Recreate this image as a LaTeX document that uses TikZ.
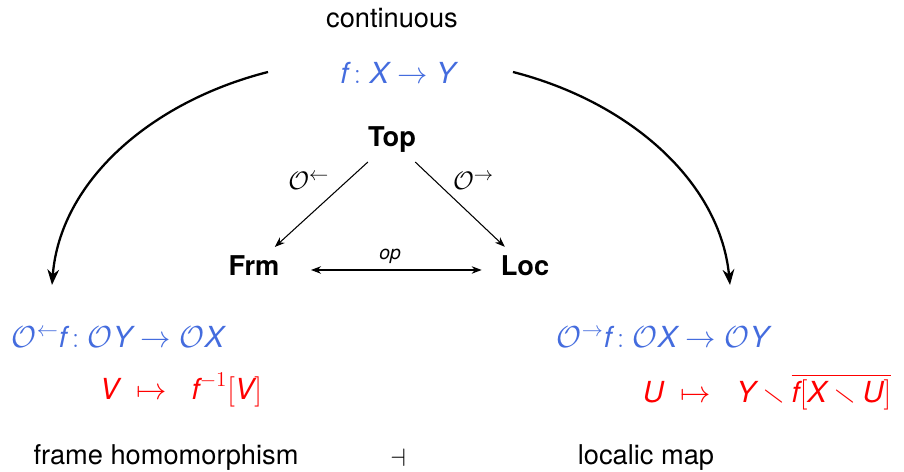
\documentclass[tikz,border=0pt]{standalone}
\usepackage{amsmath,amssymb}
\usepackage{fontspec}
\setmainfont{TeX Gyre Heros}
\usetikzlibrary{arrows.meta,calc,positioning}
\definecolor{SlideBlue}{RGB}{68,108,222}
\definecolor{SlideRed}{RGB}{255,0,0}
\newcommand{\mi}[1]{\textit{#1}}
\newcommand{\Ocal}{\mathcal{O}}

\begin{document}
\begin{tikzpicture}[x=0.02cm,y=0.02cm,>=Stealth]
        \tikzset{txt/.style={inner sep=2pt,font=\fontsize{15.5}{18}\selectfont},
          cat/.style={txt,font=\fontsize{15.5}{18}\selectfont\bfseries,inner sep=5pt},
          blue/.style={txt,font=\fontsize{16.5}{19}\selectfont,text=SlideBlue},
          red/.style={txt,font=\fontsize{16.5}{19}\selectfont,text=SlideRed},
          bigarrow/.style={->,line width=1.3pt},
          thinarrow/.style={->,line width=0.6pt}}
        \useasboundingbox (0,0) rectangle (904,472);
        \node[txt] (cont) at (392,454) {continuous};
        \node[blue] (fmap) at (398,399) {$\mi{f}\,{:}\;\mi{X}\to\mi{Y}$};
        \node[cat] (top) at (392,332) {Top};
        \node[cat] (frm) at (254,206) {Frm};
        \node[cat] (loc) at (525,206) {Loc};
        \node[blue,anchor=west] (lmap) at (8,135) {$\Ocal^{\leftarrow}\mi{f}\,{:}\;\Ocal\mi{Y}\to\Ocal\mi{X}$};
        \node[red,anchor=west] (lred) at (96,82) {$\mi{V}\;\mapsto\;\;\mi{f}^{-1}[\mi{V}]$};
        \node[blue,anchor=west] (rmap) at (553,135) {$\Ocal^{\rightarrow}\mi{f}\,{:}\;\Ocal\mi{X}\to\Ocal\mi{Y}$};
        \node[red,anchor=west] (rred) at (639,80) {$\mi{U}\;\mapsto\;\;\mi{Y}\mathbin{\smallsetminus}\overline{\mi{f}[\mi{X}\mathbin{\smallsetminus}\mi{U}]}$};
        \node[txt] (fh) at (166,14) {frame homomorphism};
        \node[txt] (adj) at (398,14) {$\dashv$};
        \node[txt] (lm) at (646,14) {localic map};
        % big curved arrows
        \coordinate (ls) at (268,400);
        \coordinate (le) at (52,187);
        \coordinate (rs) at (513,400);
        \coordinate (re) at (730,187);
        \draw[bigarrow] (ls) .. controls (150,370) and (60,290) .. (le);
        \draw[bigarrow] (rs) .. controls (630,370) and (720,290) .. (re);
        % triangle
        \draw[thinarrow] (top) -- node[pos=0.22,left=8pt,txt] {$\Ocal^{\leftarrow}$} (frm);
        \draw[thinarrow] (top) -- node[pos=0.22,right=8pt,txt] {$\Ocal^{\rightarrow}$} (loc);
        \draw[<->,line width=0.6pt,shorten <=0.45cm,shorten >=0.2cm] ([yshift=-0.08cm]frm.east) -- node[above,font=\fontsize{11}{13}\selectfont\itshape] {op} ([yshift=-0.08cm]loc.west);
      \end{tikzpicture}
\end{document}
